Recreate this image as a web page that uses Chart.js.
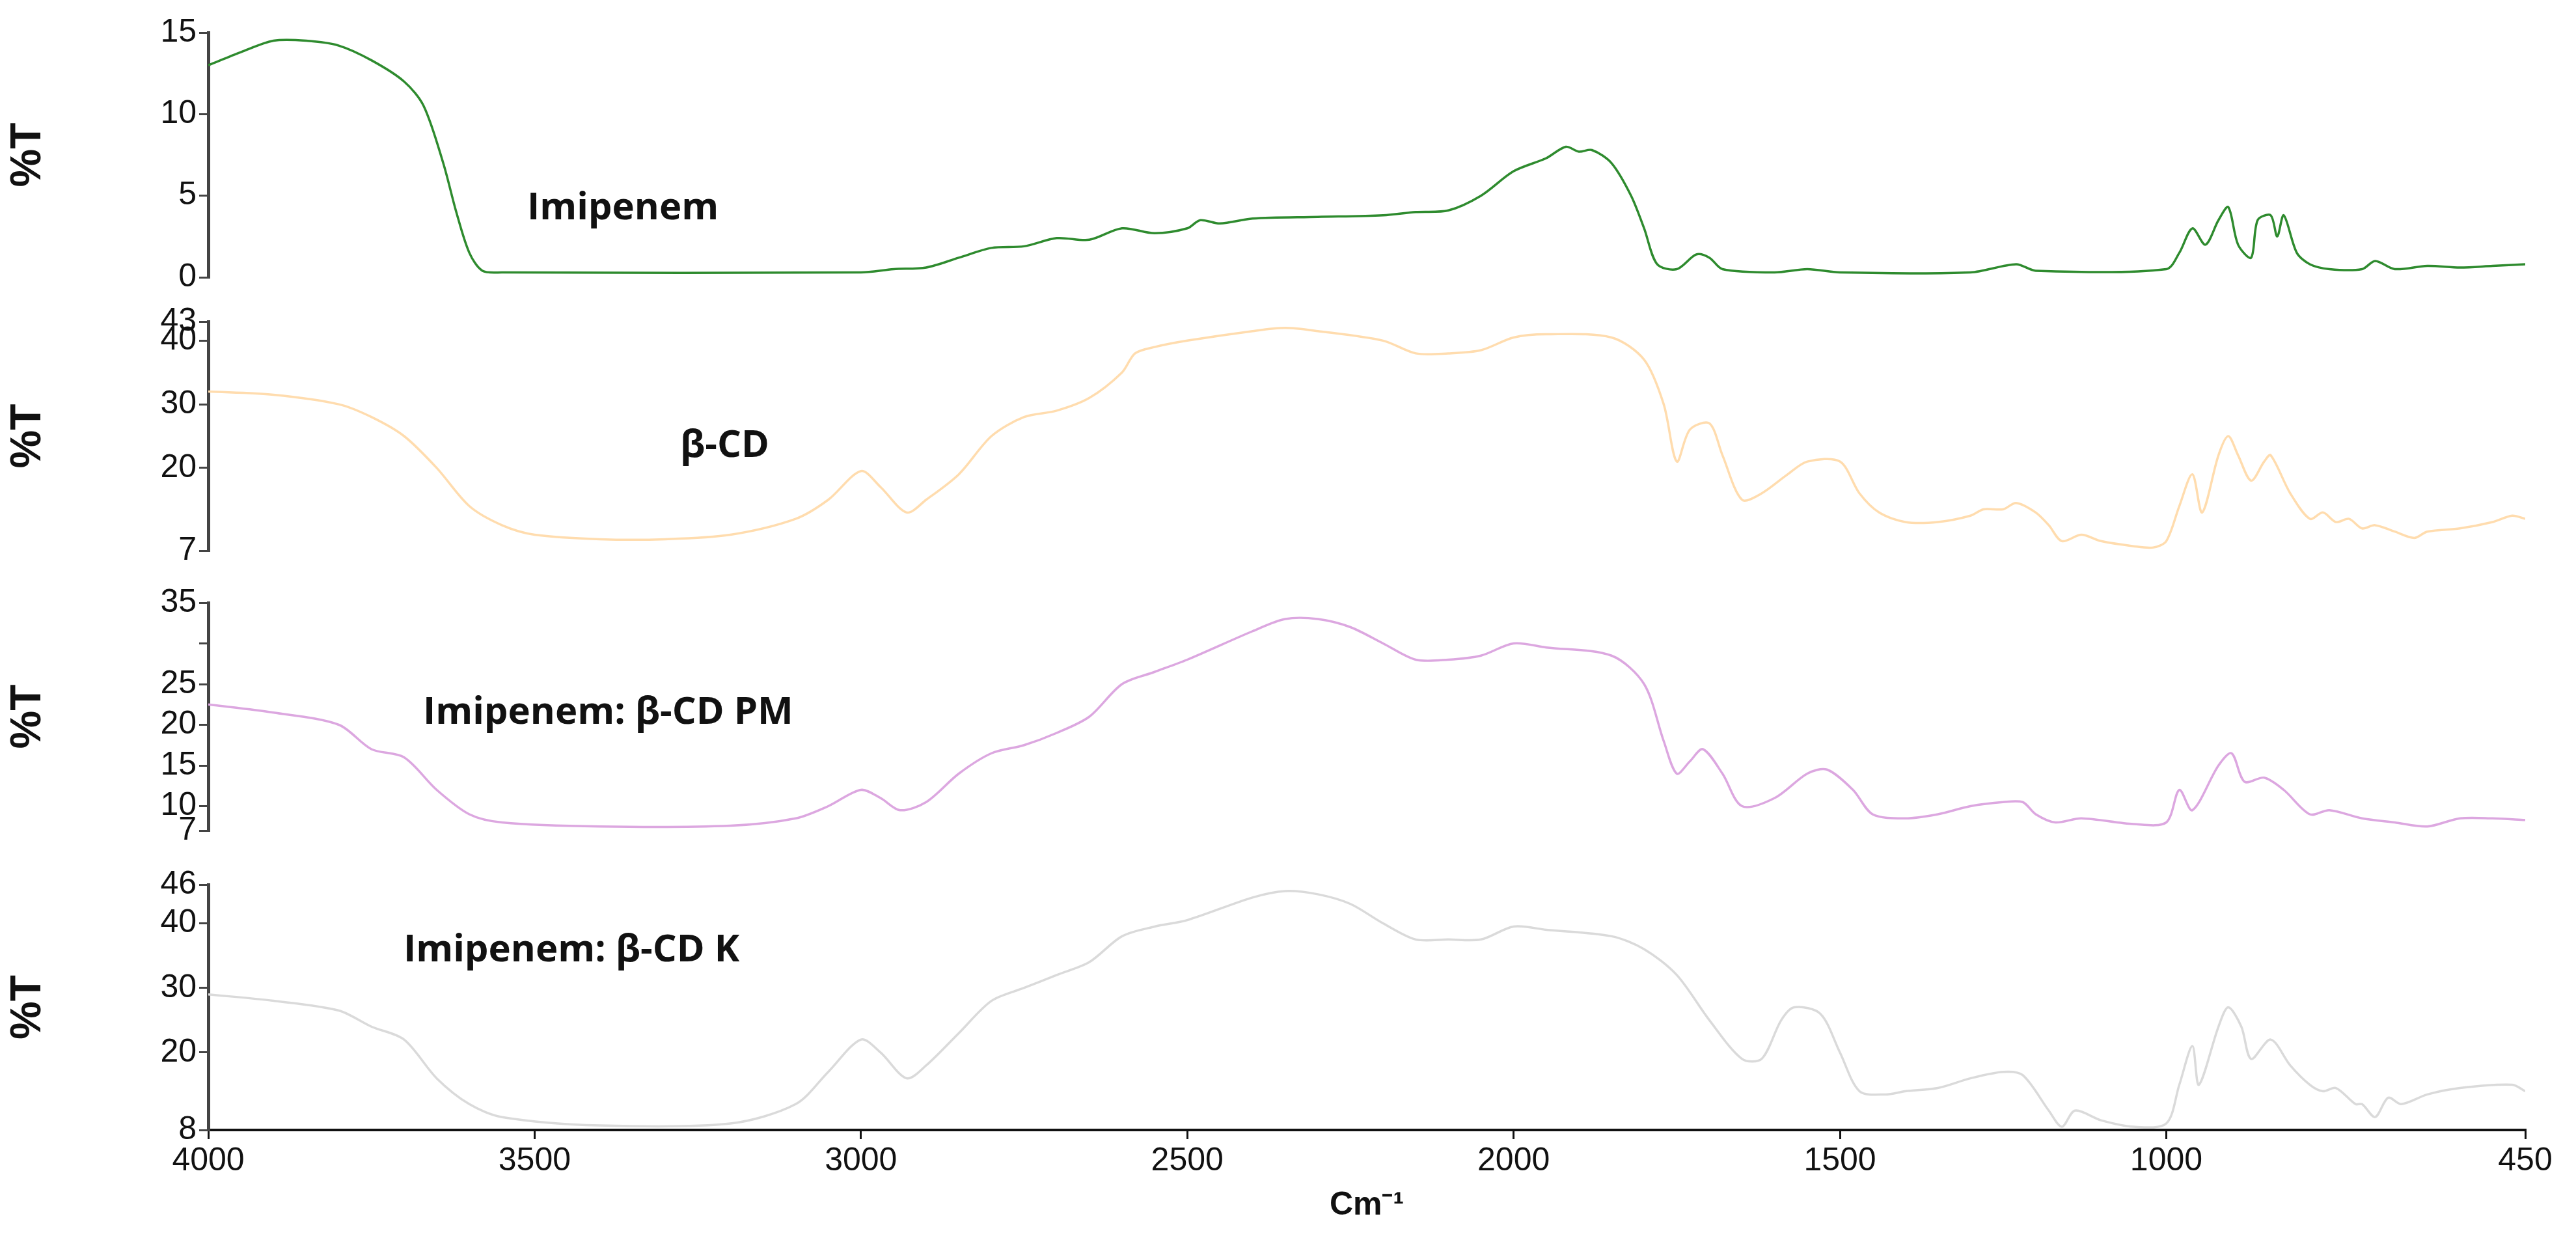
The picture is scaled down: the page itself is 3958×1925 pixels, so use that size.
<!DOCTYPE html>
<html>
<head>
<meta charset="utf-8">
<script src="https://cdn.jsdelivr.net/npm/chart.js@4.4.1/dist/chart.umd.min.js"></script>
<style>
  body { margin: 0; background: #fff; width: 3958px; height: 1925px; position: relative; overflow: hidden; font-family: 'Open Sans', 'DejaVu Sans', sans-serif; }
  .box { position: absolute; left: 0; width: 3958px; }
  .lbl { position: absolute; font-weight: bold; font-size: 58px; color: #111; white-space: nowrap; }
</style>
</head>
<body>
<div class="box" style="top:0;height:460px"><canvas id="c1"></canvas></div>
<div class="box" style="top:460px;height:420px"><canvas id="c2"></canvas></div>
<div class="box" style="top:880px;height:430px"><canvas id="c3"></canvas></div>
<div class="box" style="top:1310px;height:615px"><canvas id="c4"></canvas></div>
<div class="lbl" style="left:810px;top:275px">Imipenem</div>
<div class="lbl" style="left:1045px;top:640px">β-CD</div>
<div class="lbl" style="left:650px;top:1050px">Imipenem: β-CD PM</div>
<div class="lbl" style="left:620px;top:1415px">Imipenem: β-CD K</div>
<script>
// 波數（cm-1）與各樣品 %T
const wnImi = [4000,3950,3900,3850,3800,3750,3700,3670,3640,3620,3600,3580,3550,3000,2950,2900,2850,2800,2750,2700,2650,2600,2550,2500,2480,2450,2400,2300,2200,2150,2100,2050,2000,1950,1920,1900,1880,1850,1820,1800,1780,1750,1720,1700,1680,1600,1550,1500,1300,1230,1200,1000,980,960,940,920,905,890,870,860,840,830,820,800,780,750,700,680,650,600,550,500,450];
const imipenem = [13,13.8,14.5,14.5,14.2,13.3,12,10.5,7,4,1.5,0.4,0.3,0.3,0.5,0.6,1.2,1.8,1.9,2.4,2.3,3.0,2.7,3.0,3.5,3.3,3.6,3.7,3.8,4.0,4.1,5.0,6.5,7.3,8.0,7.7,7.8,7,5,3,0.8,0.5,1.4,1.2,0.5,0.3,0.5,0.3,0.3,0.8,0.4,0.5,1.5,3.0,2.0,3.5,4.3,2.0,1.2,3.5,3.8,2.5,3.8,1.5,0.8,0.5,0.5,1.0,0.5,0.7,0.6,0.7,0.8];

const wnCD = [4000,3900,3800,3750,3700,3650,3600,3550,3500,3400,3300,3200,3100,3050,3000,2970,2930,2900,2850,2800,2750,2700,2650,2600,2580,2550,2500,2400,2350,2300,2200,2150,2100,2050,2000,1950,1850,1800,1770,1750,1730,1700,1680,1650,1620,1580,1550,1500,1470,1440,1400,1350,1300,1280,1250,1230,1200,1180,1160,1130,1100,1050,1020,1000,980,960,945,920,905,890,870,850,840,810,780,760,740,720,700,680,650,620,600,550,500,470,450];
const betaCD = [32,31.5,30,28,25,20,14,11,9.5,8.8,8.8,9.5,12,15,19.5,17,13,15,19,25,28,29,31,35,38,39,40,41.5,42,41.5,40,38,38,38.5,40.5,41,40.5,37,30,21,26,27,22,15,16,19,21,21,16,13,11.5,11.5,12.5,13.5,13.5,14.5,13,11,8.5,9.5,8.5,7.7,7.5,8.5,14,19,13,22,25,22,18,21,22,16,12,13,11.5,12,10.5,11,10,9,10,10.5,11.5,12.5,12];

const wnPM = [4000,3900,3800,3750,3700,3650,3600,3550,3400,3200,3100,3050,3000,2970,2940,2900,2850,2800,2750,2700,2650,2600,2550,2500,2400,2350,2300,2250,2200,2150,2100,2050,2000,1950,1850,1800,1770,1750,1730,1710,1680,1650,1600,1550,1520,1480,1450,1400,1350,1300,1250,1220,1200,1170,1130,1050,1000,980,960,920,900,880,850,820,780,750,700,650,600,550,500,450];
const mixPM = [22.5,21.5,20,17,16,12,9,8,7.5,7.6,8.5,10,12,11,9.5,10.5,14,16.5,17.5,19,21,25,26.5,28,31.5,33,33,32,30,28,28,28.5,30,29.5,28.5,25,18,14,15.5,17,14,10,11,14,14.5,12,9,8.5,9,10,10.5,10.5,9,8,8.5,7.8,8,12,9.5,15,16.5,13,13.5,12,9,9.5,8.5,8,7.5,8.5,8.5,8.3];

const wnK = [4000,3900,3800,3750,3700,3650,3600,3550,3400,3200,3100,3050,3000,2970,2930,2900,2850,2800,2750,2700,2650,2600,2550,2500,2400,2350,2300,2250,2200,2150,2100,2050,2000,1950,1850,1800,1750,1700,1650,1620,1590,1570,1530,1500,1470,1430,1400,1350,1300,1250,1220,1180,1160,1140,1100,1050,1000,980,960,950,920,905,885,870,840,810,780,760,740,710,700,680,660,640,600,550,470,450];
const complexK = [29,28,26.5,24,22,16,12,10,8.7,9,12,17,22,20,16,18,23,28,30,32,34,38,39.5,40.5,44,45,44.5,43,40,37.5,37.5,37.5,39.5,39,38,36,32,25,19,19,25,27,26,20,14,13.5,14,14.5,16,17,16.5,11,8.5,11,9.5,8.5,9,15,21,15,24,27,24,19,22,18,15,14,14.5,12,12,10,13,12,13.5,14.5,15,14];

const xTicks = [4000,3500,3000,2500,2000,1500,1000,450];
const yTicks1 = [0,5,10,15];
const yTicks2 = [7,20,30,40,43];
const yTicks3 = [7,10,15,20,25,30,35];
const yTicks4 = [8,20,30,40,46];

const tickFont = { family: 'Liberation Sans', size: 50 };
const axisCol = '#444';

function mkChart(id, wn, vals, col, yTicks, yMin, yMax, pad, showX, hideLabels) {
    const pts = wn.map((w, i) => ({ x: w, y: vals[i] }));
    return new Chart(document.getElementById(id), {
        type: 'line',
        data: { datasets: [{ data: pts, borderColor: col, borderWidth: 3.5, pointRadius: 0, tension: 0.3, fill: false }] },
        options: {
            responsive: true, maintainAspectRatio: false, animation: false,
            layout: { padding: { left: 0, right: 78, top: pad[0], bottom: pad[1] } },
            plugins: { legend: { display: false }, tooltip: { enabled: false } },
            scales: {
                x: {
                    type: 'linear', reverse: true, min: 450, max: 4000, display: showX,
                    afterBuildTicks: s => { s.ticks = xTicks.map(v => ({ value: v })); },
                    afterFit: s => { if (showX) s.height = 150; },
                    ticks: { color: '#111', font: tickFont, maxRotation: 0, autoSkip: false, padding: 4, callback: v => String(v) },
                    grid: { drawOnChartArea: false, drawTicks: true, tickLength: 14, color: '#111', lineWidth: 3 },
                    border: { color: '#111', width: 4 },
                    title: { display: true, text: 'Cm⁻¹', color: '#111', font: { family: 'Liberation Sans', size: 50, weight: 'bold' }, padding: { top: 0 } }
                },
                y: {
                    min: yMin, max: yMax,
                    afterBuildTicks: s => { s.ticks = yTicks.map(v => ({ value: v })); },
                    afterFit: s => { s.width = 320; },
                    ticks: { color: '#111', font: tickFont, padding: 4, autoSkip: false,
                             callback: v => (hideLabels.includes(v) ? '' : String(v)) },
                    grid: { drawOnChartArea: false, drawTicks: true, tickLength: 14, color: axisCol, lineWidth: 3 },
                    border: { color: axisCol, width: 5 },
                    title: { display: true, text: '%T', color: '#111', font: { family: 'Liberation Sans', size: 66, weight: 'bold' }, padding: { bottom: 100 } }
                }
            }
        }
    });
}

mkChart('c1', wnImi, imipenem, '#2e8b2e', yTicks1, 0, 15, [50, 27], false, []);
mkChart('c2', wnCD, betaCD, '#ffdcae', yTicks2, 7, 43, [26, 12], false, []);
mkChart('c3', wnPM, mixPM, '#dca7e0', yTicks3, 7, 35, [46, 14], false, [30]);
mkChart('c4', wnK, complexK, '#dadada', yTicks4, 8, 46, [49, 39], true, []);
</script>
</body>
</html>
